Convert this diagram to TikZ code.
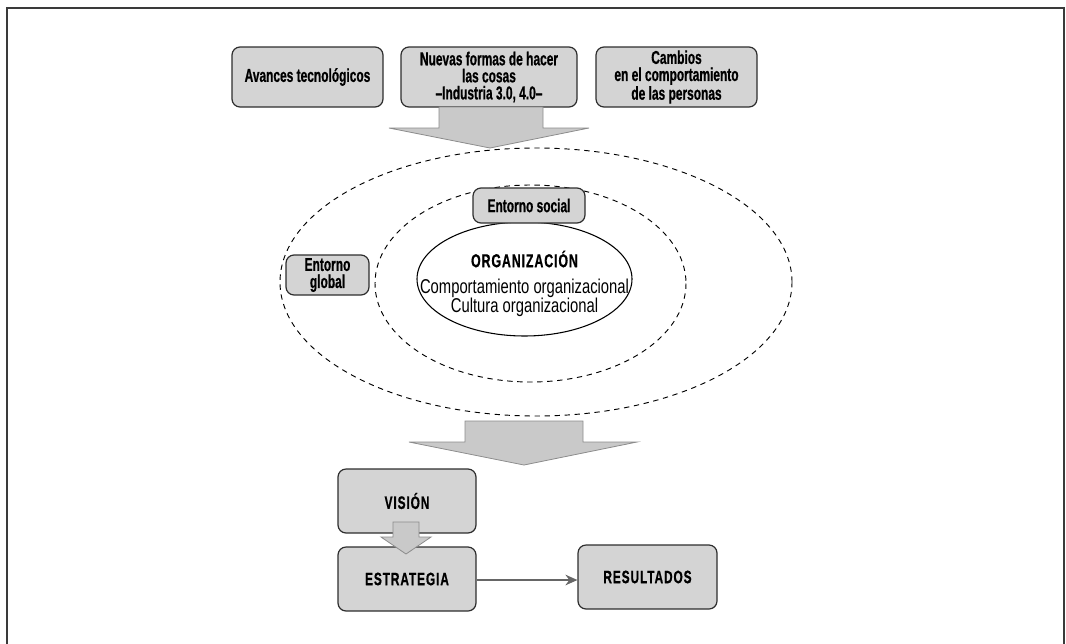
\documentclass[tikz,border=0pt]{standalone}
\usepackage{fontspec}
\setmainfont{Liberation Sans}
\newfontfamily\condbold{Liberation Sans}[FakeStretch=0.64, FakeBold=0.7]
\newfontfamily\condcaps{Liberation Sans}[FakeStretch=0.66, FakeBold=0.7, LetterSpace=5]
\newfontfamily\condreg{Liberation Sans}[FakeStretch=0.74]
\usetikzlibrary{arrows.meta,shapes.geometric}

\definecolor{boxfill}{HTML}{D4D4D4}
\definecolor{boxline}{HTML}{2E2E2E}
\definecolor{arrowfill}{HTML}{C9C9C9}
\definecolor{arrowline}{HTML}{8C8C8C}
\definecolor{framecol}{HTML}{3A3A3A}

\tikzset{
  sz/.style 2 args={minimum width=#1*0.75pt, minimum height=#2*0.75pt},
  greybox/.style={draw=boxline, fill=boxfill, line width=0.9pt,
    rounded corners=6pt, inner sep=0pt, align=center,
    font=\condbold\bfseries\fontsize{14}{12.8}\selectfont},
  capsbox/.style={greybox, font=\condcaps\bfseries\fontsize{13.5}{12.8}\selectfont},
  ring/.style={draw=black, line width=0.7pt, dash pattern=on 4pt off 3.5pt},
  blockarrow/.style={draw=arrowline, fill=arrowfill, line width=0.6pt, line join=miter},
  flow/.style={draw=black!60, line width=1pt, -{Stealth[length=9pt,width=8pt]}}
}

\begin{document}
\begin{tikzpicture}[x=0.75pt,y=-0.75pt]
\useasboundingbox (0,0) rectangle (1066,643);

% open frame
\draw[framecol, line width=1.6pt] (7,650) -- (7,8) -- (1064,8) -- (1064,650);

% top row of drivers
\node[greybox, sz={151}{60}] (tec) at (307.5,77) {Avances tecnológicos};
\node[greybox, sz={176}{60}] (ind) at (489,77) {Nuevas formas de hacer\\las cosas\\–Industria 3.0, 4.0–};
\node[greybox, sz={161}{60}] (per) at (676.5,77) {Cambios\\en el comportamiento\\de las personas};

% block arrow into the environment
\draw[blockarrow] (439,107) -- (543,107) -- (543,128) -- (589,128) -- (490,148)
  -- (389,128) -- (439,128) -- cycle;

% environment rings
\draw[ring] (536,282) ellipse [x radius=256, y radius=134];
\draw[ring] (530.5,283.5) ellipse [x radius=155.5, y radius=98.5];

\node[draw=black, line width=0.8pt, fill=white, ellipse,
  minimum width=215*0.75pt, minimum height=114*0.75pt, inner sep=0pt] (org) at (524.5,279) {};
\node[font=\condcaps\bfseries\fontsize{14}{14}\selectfont] (orgt) at (524.5,259) {ORGANIZACIÓN};
\node[font=\condreg\fontsize{15}{15}\selectfont, align=center] (orgd) at (524.5,298)
  {Comportamiento organizacional\\[-0.5pt]Cultura organizacional};

\node[greybox, sz={112}{35}] (soc) at (529,205.5) {Entorno social};
\node[greybox, sz={83}{40}] (glo) at (327.5,275) {Entorno\\global};

% block arrow out of the environment
\draw[blockarrow] (465,421) -- (583,421) -- (583,442) -- (637,442) -- (524,465)
  -- (409,442) -- (465,442) -- cycle;

% outcomes
\node[capsbox, sz={138}{64}] (vis) at (407,501) {VISIÓN};
\node[capsbox, sz={138}{64}] (est) at (407,579) {ESTRATEGIA};
\node[capsbox, sz={139}{64}] (res) at (647.5,577) {RESULTADOS};

\draw[blockarrow] (393,522) -- (419,522) -- (419,537) -- (431,537) -- (406,554)
  -- (381,537) -- (393,537) -- cycle;

\draw[flow] (est.east |- 0,580) -- (res.west |- 0,580);
\end{tikzpicture}
\end{document}
